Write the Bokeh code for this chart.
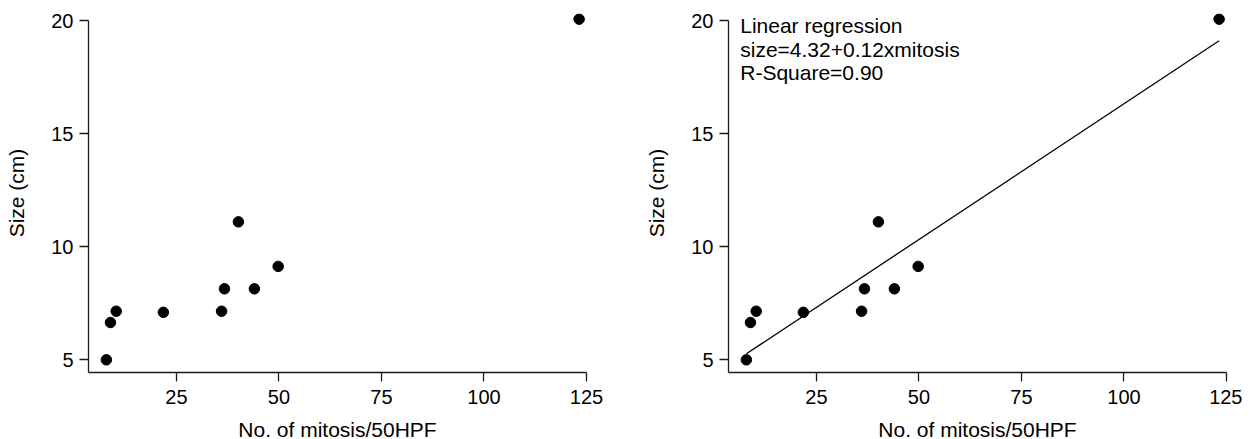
from bokeh.plotting import figure
from bokeh.layouts import row
from bokeh.models import FixedTicker, Range1d, ColumnDataSource
from bokeh.core.properties import value
from bokeh.embed import file_html
from bokeh.resources import INLINE

# ---- data ----
mitosis = [7.9, 8.9, 10.3, 21.8, 36.0, 36.7, 40.1, 44.0, 49.8, 123.2]
size_cm = [5.0, 6.65, 7.15, 7.1, 7.15, 8.14, 11.1, 8.14, 9.13, 20.06]
x_ticks = [25, 50, 75, 100, 125]
y_ticks = [5, 10, 15, 20]
intercept = 4.32
slope = 0.12
annot_lines = ["Linear regression", "size=4.32+0.12xmitosis", "R-Square=0.90"]
annot_y = [19.8, 18.74, 17.68]
x_label = "No. of mitosis/50HPF"
y_label = "Size (cm)"

FONT = "Liberation Sans"
AX = "#1a1a1a"


def make_fig():
    p = figure(frame_width=498, frame_height=359,
               x_range=Range1d(3.54, 125), y_range=Range1d(4.44, 20.31),
               output_backend="svg", toolbar_location=None,
               min_border_left=88, min_border_right=10,
               min_border_top=13, min_border_bottom=60)
    p.grid.visible = False
    p.outline_line_color = None
    p.background_fill_color = "white"
    p.border_fill_color = "white"
    for ax in (p.xaxis[0], p.yaxis[0]):
        ax.axis_line_color = AX
        ax.axis_line_width = 1.3
        ax.major_tick_line_color = AX
        ax.major_tick_line_width = 1.3
        ax.major_tick_in = 0
        ax.major_tick_out = 9
        ax.minor_tick_line_color = None
        ax.major_label_text_font = FONT
        ax.major_label_text_font_size = "20px"
        ax.major_label_text_color = "black"
        ax.axis_label_text_font = FONT
        ax.axis_label_text_font_size = "21px"
        ax.axis_label_text_font_style = "normal"
        ax.axis_label_text_color = "black"
    p.xaxis.ticker = FixedTicker(ticks=x_ticks)
    p.yaxis.ticker = FixedTicker(ticks=y_ticks)
    p.yaxis.bounds = (4.44, 20)
    p.xaxis.axis_label = x_label
    p.yaxis.axis_label = y_label
    p.xaxis.major_label_standoff = 8
    p.yaxis.major_label_standoff = 6
    p.xaxis.axis_label_standoff = 11
    p.yaxis.axis_label_standoff = 20
    return p


src = ColumnDataSource(dict(x=mitosis, y=size_cm))

p1 = make_fig()
p1.min_border_right = 54
p1.scatter("x", "y", source=src, size=10.5, color="black")

p2 = make_fig()
p2.min_border_right = 16
x0, x1 = min(mitosis), max(mitosis)
p2.line([x0, x1], [intercept + slope * x0, intercept + slope * x1],
        line_color="black", line_width=1.3)
p2.scatter("x", "y", source=src, size=10.5, color="black")
asrc = ColumnDataSource(dict(x=[6.4] * len(annot_lines), y=annot_y, t=annot_lines))
p2.text("x", "y", text="t", source=asrc, text_font=value(FONT),
        text_font_size="21px", text_baseline="alphabetic", text_align="left",
        text_color="black")

layout = row(p1, p2)
open("out.html", "w").write(file_html(layout, INLINE))
